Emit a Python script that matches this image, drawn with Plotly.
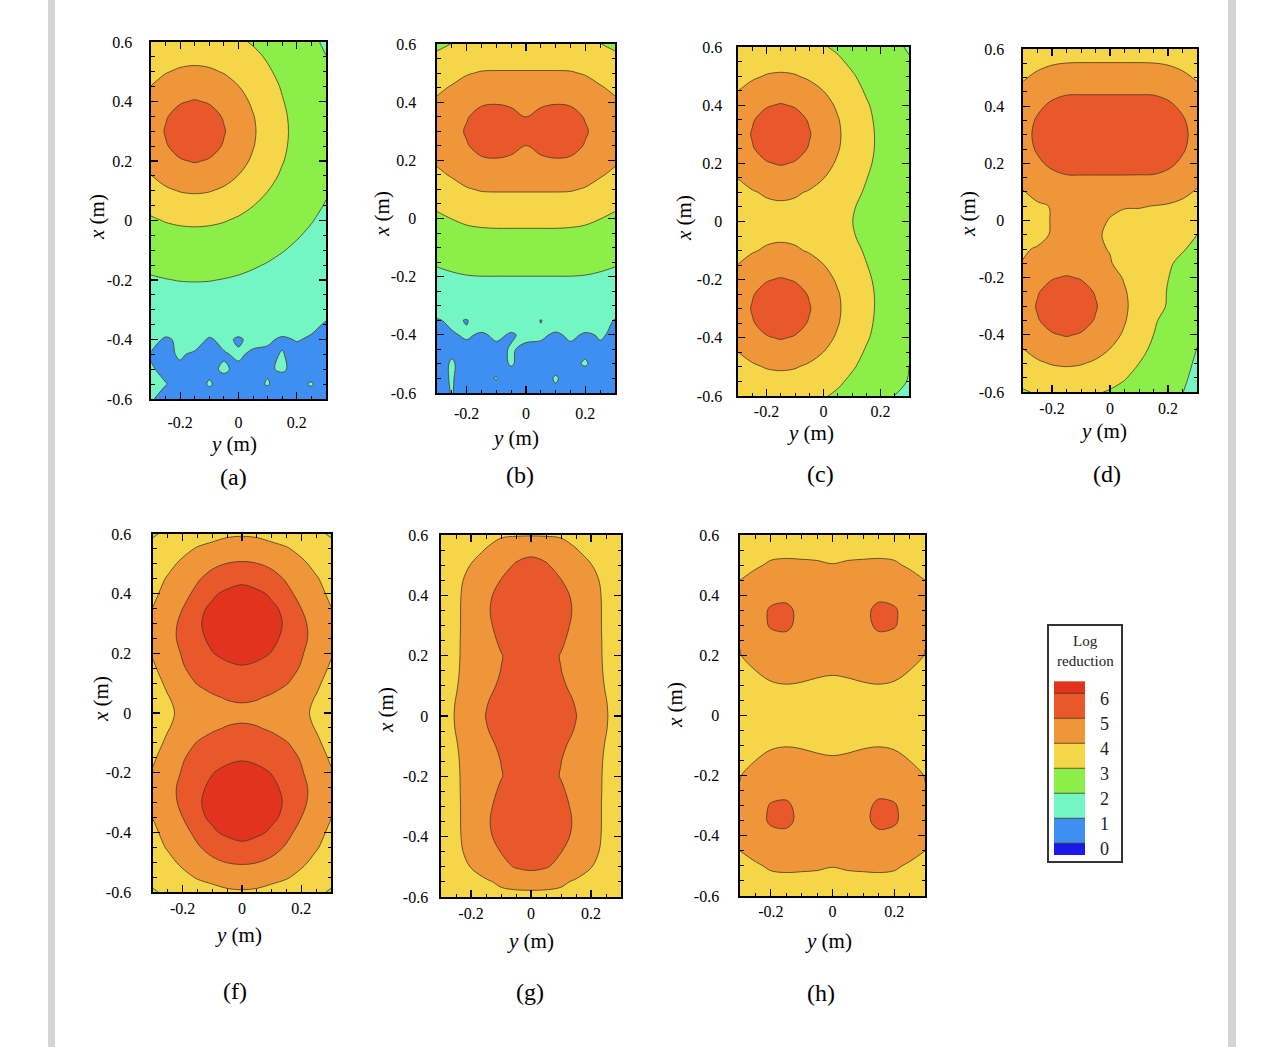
import plotly.graph_objects as go

# ---------------- data ----------------
Y_COLS = [-0.3, -0.25, -0.2, -0.15, -0.1, -0.05, 0.0, 0.05, 0.1, 0.15, 0.2, 0.25, 0.3]
X_ROWS = [0.6, 0.55, 0.5, 0.45, 0.4, 0.35, 0.3, 0.25, 0.2, 0.15, 0.1, 0.05, 0.0,
          -0.05, -0.1, -0.15, -0.2, -0.25, -0.3, -0.35, -0.4, -0.45, -0.5, -0.55, -0.6]

LR_A = [
    [3.10, 3.24, 3.32, 3.35, 3.32, 3.24, 3.10, 2.94, 2.76, 2.58, 2.40, 2.10, 1.92],
    [3.38, 3.57, 3.70, 3.75, 3.70, 3.57, 3.38, 3.16, 2.93, 2.71, 2.50, 2.31, 2.01],
    [3.68, 3.95, 4.12, 4.18, 4.12, 3.95, 3.68, 3.38, 3.09, 2.82, 2.57, 2.35, 2.14],
    [4.02, 4.34, 4.56, 4.64, 4.56, 4.34, 4.02, 3.64, 3.27, 2.94, 2.65, 2.40, 2.18],
    [4.30, 4.68, 4.94, 5.05, 4.94, 4.68, 4.30, 3.87, 3.42, 3.04, 2.72, 2.44, 2.20],
    [4.52, 4.94, 5.26, 5.40, 5.26, 4.94, 4.52, 4.04, 3.56, 3.12, 2.78, 2.49, 2.24],
    [4.60, 5.05, 5.40, 5.60, 5.40, 5.05, 4.60, 4.10, 3.60, 3.15, 2.80, 2.50, 2.25],
    [4.52, 4.94, 5.26, 5.40, 5.26, 4.94, 4.52, 4.04, 3.56, 3.12, 2.78, 2.49, 2.24],
    [4.30, 4.68, 4.94, 5.05, 4.94, 4.68, 4.30, 3.87, 3.42, 3.04, 2.72, 2.44, 2.20],
    [3.98, 4.30, 4.52, 4.60, 4.52, 4.30, 3.98, 3.60, 3.23, 2.90, 2.61, 2.37, 2.14],
    [3.60, 3.87, 4.04, 4.10, 4.04, 3.87, 3.60, 3.30, 3.01, 2.74, 2.49, 2.27, 2.06],
    [3.23, 3.42, 3.56, 3.60, 3.56, 3.42, 3.23, 3.01, 2.78, 2.56, 2.35, 2.16, 1.96],
    [2.90, 3.04, 3.12, 3.15, 3.12, 3.04, 2.90, 2.74, 2.56, 2.38, 2.20, 2.03, 1.84],
    [2.61, 2.72, 2.78, 2.80, 2.78, 2.72, 2.61, 2.49, 2.35, 2.20, 2.05, 1.89, 1.72],
    [2.37, 2.44, 2.49, 2.50, 2.49, 2.44, 2.37, 2.27, 2.16, 2.03, 1.89, 1.73, 1.59],
    [2.14, 2.20, 2.24, 2.25, 2.24, 2.20, 2.14, 2.06, 1.96, 1.84, 1.72, 1.59, 1.47],
    [1.93, 1.98, 2.02, 2.03, 2.02, 1.98, 1.93, 1.85, 1.76, 1.67, 1.56, 1.45, 1.34],
    [1.72, 1.76, 1.79, 1.80, 1.79, 1.76, 1.72, 1.66, 1.59, 1.51, 1.41, 1.32, 1.22],
    [1.53, 1.57, 1.59, 1.60, 1.59, 1.57, 1.53, 1.48, 1.42, 1.35, 1.27, 1.19, 1.10],
    [1.36, 1.39, 1.41, 1.42, 1.41, 1.39, 1.36, 1.32, 1.26, 1.20, 1.14, 1.07, 0.97],
    [1.20, 0.92, 1.10, 1.25, 0.93, 1.15, 0.92, 1.17, 1.05, 0.95, 1.02, 0.96, 0.91],
    [0.95, 0.90, 1.05, 0.92, 0.88, 0.95, 1.08, 0.90, 0.93, 1.02, 0.88, 0.86, 0.84],
    [1.05, 0.88, 0.92, 0.85, 0.90, 1.06, 0.90, 0.86, 0.95, 1.05, 0.88, 0.82, 0.80],
    [1.08, 1.02, 0.85, 0.82, 1.04, 0.85, 0.83, 0.88, 1.03, 0.80, 0.92, 1.03, 0.78],
    [1.05, 0.82, 0.80, 0.95, 0.80, 0.78, 0.90, 0.77, 0.76, 1.02, 0.72, 0.80, 0.70],
]

LR_B = [
    [2.87, 3.01, 3.14, 3.21, 3.23, 3.23, 3.23, 3.23, 3.23, 3.21, 3.14, 3.01, 2.87],
    [3.14, 3.35, 3.51, 3.62, 3.63, 3.63, 3.63, 3.63, 3.63, 3.62, 3.51, 3.35, 3.14],
    [3.44, 3.72, 3.94, 4.06, 4.08, 4.08, 4.08, 4.08, 4.08, 4.06, 3.94, 3.72, 3.44],
    [3.84, 4.07, 4.32, 4.47, 4.50, 4.50, 4.50, 4.50, 4.50, 4.47, 4.32, 4.07, 3.84],
    [4.12, 4.35, 4.66, 4.87, 4.92, 4.85, 4.75, 4.85, 4.92, 4.87, 4.66, 4.35, 4.12],
    [4.25, 4.55, 4.93, 5.33, 5.45, 5.25, 4.98, 5.25, 5.45, 5.33, 4.93, 4.55, 4.25],
    [4.30, 4.62, 5.10, 5.53, 5.70, 5.60, 5.35, 5.60, 5.70, 5.53, 5.10, 4.62, 4.30],
    [4.25, 4.55, 4.93, 5.33, 5.45, 5.25, 4.98, 5.25, 5.45, 5.33, 4.93, 4.55, 4.25],
    [4.12, 4.35, 4.66, 4.87, 4.92, 4.85, 4.75, 4.85, 4.92, 4.87, 4.66, 4.35, 4.12],
    [3.84, 4.07, 4.32, 4.47, 4.50, 4.50, 4.50, 4.50, 4.50, 4.47, 4.32, 4.07, 3.84],
    [3.44, 3.72, 3.94, 4.06, 4.08, 4.08, 4.08, 4.08, 4.08, 4.06, 3.94, 3.72, 3.44],
    [3.14, 3.35, 3.51, 3.62, 3.63, 3.63, 3.63, 3.63, 3.63, 3.62, 3.51, 3.35, 3.14],
    [2.87, 3.01, 3.14, 3.21, 3.23, 3.23, 3.23, 3.23, 3.23, 3.21, 3.14, 3.01, 2.87],
    [2.62, 2.74, 2.83, 2.87, 2.89, 2.89, 2.89, 2.89, 2.89, 2.87, 2.83, 2.74, 2.62],
    [2.36, 2.47, 2.55, 2.59, 2.60, 2.60, 2.60, 2.60, 2.60, 2.59, 2.55, 2.47, 2.36],
    [2.08, 2.18, 2.25, 2.29, 2.30, 2.30, 2.30, 2.30, 2.30, 2.29, 2.25, 2.18, 2.08],
    [1.84, 1.91, 1.97, 1.99, 1.99, 1.99, 1.99, 1.99, 1.99, 1.99, 1.97, 1.91, 1.84],
    [1.60, 1.67, 1.72, 1.75, 1.75, 1.75, 1.75, 1.75, 1.75, 1.75, 1.72, 1.67, 1.60],
    [1.38, 1.44, 1.48, 1.50, 1.50, 1.50, 1.50, 1.50, 1.50, 1.50, 1.48, 1.44, 1.38],
    [0.95, 1.10, 0.97, 1.29, 1.29, 1.20, 1.29, 0.98, 1.29, 1.29, 1.27, 1.23, 0.97],
    [0.92, 0.95, 1.06, 0.94, 1.08, 0.96, 1.08, 1.08, 0.93, 1.08, 0.95, 1.03, 0.95],
    [0.88, 0.91, 0.88, 0.93, 0.90, 1.03, 0.93, 0.88, 0.93, 0.90, 0.92, 0.95, 0.88],
    [0.80, 1.05, 0.82, 0.85, 0.82, 1.04, 0.82, 0.86, 0.82, 0.90, 1.04, 0.81, 0.80],
    [0.85, 1.04, 0.77, 0.90, 1.02, 0.77, 0.80, 0.77, 1.05, 0.77, 0.77, 0.88, 0.75],
    [0.71, 1.03, 0.71, 0.72, 0.80, 0.72, 0.72, 0.72, 0.90, 0.72, 0.71, 0.71, 0.71],
]

LR_C = [
    [3.05, 3.18, 3.26, 3.29, 3.26, 3.18, 3.05, 2.89, 2.70, 2.50, 2.30, 2.11, 1.94],
    [3.33, 3.51, 3.65, 3.69, 3.65, 3.51, 3.33, 3.11, 2.87, 2.64, 2.43, 2.23, 2.05],
    [3.61, 3.87, 4.05, 4.11, 4.05, 3.87, 3.61, 3.34, 3.07, 2.80, 2.56, 2.33, 2.15],
    [3.99, 4.30, 4.52, 4.60, 4.52, 4.30, 3.99, 3.61, 3.25, 2.93, 2.66, 2.43, 2.22],
    [4.30, 4.68, 4.94, 5.05, 4.94, 4.68, 4.30, 3.88, 3.44, 3.07, 2.77, 2.50, 2.29],
    [4.53, 4.94, 5.26, 5.40, 5.26, 4.94, 4.53, 4.05, 3.57, 3.15, 2.83, 2.56, 2.33],
    [4.61, 5.05, 5.40, 5.60, 5.40, 5.05, 4.61, 4.11, 3.62, 3.19, 2.86, 2.58, 2.35],
    [4.53, 4.95, 5.26, 5.40, 5.26, 4.95, 4.53, 4.06, 3.59, 3.18, 2.86, 2.59, 2.36],
    [4.31, 4.69, 4.95, 5.06, 4.95, 4.69, 4.31, 3.89, 3.47, 3.12, 2.82, 2.57, 2.36],
    [4.02, 4.32, 4.54, 4.62, 4.54, 4.32, 4.02, 3.66, 3.32, 3.02, 2.76, 2.54, 2.34],
    [3.69, 3.93, 4.10, 4.16, 4.10, 3.93, 3.69, 3.42, 3.17, 2.93, 2.70, 2.50, 2.32],
    [3.52, 3.70, 3.83, 3.88, 3.83, 3.70, 3.52, 3.30, 3.05, 2.85, 2.67, 2.49, 2.30],
    [3.35, 3.49, 3.57, 3.60, 3.57, 3.49, 3.35, 3.19, 3.01, 2.83, 2.65, 2.48, 2.29],
    [3.52, 3.70, 3.83, 3.88, 3.83, 3.70, 3.52, 3.30, 3.05, 2.85, 2.67, 2.49, 2.30],
    [3.69, 3.93, 4.10, 4.16, 4.10, 3.93, 3.69, 3.42, 3.17, 2.93, 2.70, 2.50, 2.32],
    [4.02, 4.32, 4.54, 4.62, 4.54, 4.32, 4.02, 3.66, 3.32, 3.02, 2.76, 2.54, 2.34],
    [4.31, 4.69, 4.95, 5.06, 4.95, 4.69, 4.31, 3.89, 3.47, 3.12, 2.82, 2.57, 2.36],
    [4.53, 4.95, 5.26, 5.40, 5.26, 4.95, 4.53, 4.06, 3.59, 3.18, 2.86, 2.59, 2.36],
    [4.61, 5.05, 5.40, 5.60, 5.40, 5.05, 4.61, 4.11, 3.62, 3.19, 2.86, 2.58, 2.35],
    [4.53, 4.94, 5.26, 5.40, 5.26, 4.94, 4.53, 4.05, 3.57, 3.15, 2.83, 2.56, 2.33],
    [4.30, 4.68, 4.94, 5.05, 4.94, 4.68, 4.30, 3.88, 3.44, 3.07, 2.77, 2.50, 2.29],
    [3.99, 4.30, 4.52, 4.60, 4.52, 4.30, 3.99, 3.61, 3.25, 2.93, 2.66, 2.43, 2.10],
    [3.61, 3.87, 4.05, 4.11, 4.05, 3.87, 3.61, 3.34, 3.07, 2.80, 2.56, 2.33, 2.00],
    [3.33, 3.51, 3.65, 3.69, 3.65, 3.51, 3.33, 3.11, 2.87, 2.64, 2.43, 2.20, 1.96],
    [3.05, 3.18, 3.26, 3.29, 3.26, 3.18, 3.05, 2.89, 2.70, 2.50, 2.30, 1.98, 1.90],
]

LR_D = [
    [3.28, 3.44, 3.55, 3.61, 3.62, 3.62, 3.62, 3.62, 3.62, 3.61, 3.55, 3.44, 3.28],
    [3.60, 3.80, 3.94, 4.01, 4.02, 4.02, 4.02, 4.02, 4.02, 4.01, 3.94, 3.80, 3.60],
    [3.91, 4.18, 4.39, 4.50, 4.51, 4.51, 4.51, 4.51, 4.51, 4.50, 4.39, 4.18, 3.91],
    [4.24, 4.57, 4.80, 4.91, 4.92, 4.92, 4.92, 4.92, 4.92, 4.91, 4.80, 4.57, 4.24],
    [4.53, 4.87, 5.14, 5.30, 5.32, 5.32, 5.32, 5.32, 5.32, 5.30, 5.14, 4.87, 4.53],
    [4.69, 5.08, 5.42, 5.63, 5.65, 5.65, 5.65, 5.65, 5.65, 5.63, 5.42, 5.08, 4.69],
    [4.75, 5.16, 5.55, 5.80, 5.90, 5.90, 5.90, 5.90, 5.90, 5.80, 5.55, 5.16, 4.75],
    [4.70, 5.08, 5.43, 5.63, 5.65, 5.65, 5.65, 5.65, 5.65, 5.63, 5.43, 5.08, 4.70],
    [4.54, 4.88, 5.15, 5.31, 5.32, 5.32, 5.32, 5.32, 5.32, 5.31, 5.15, 4.88, 4.54],
    [4.26, 4.58, 4.80, 4.92, 4.93, 4.93, 4.93, 4.93, 4.92, 4.91, 4.80, 4.57, 4.24],
    [3.96, 4.22, 4.42, 4.52, 4.53, 4.53, 4.53, 4.52, 4.52, 4.51, 4.39, 4.19, 3.92],
    [3.72, 3.90, 4.03, 4.09, 4.09, 4.09, 4.07, 4.06, 4.05, 3.98, 3.92, 3.80, 3.62],
    [3.56, 3.72, 4.05, 4.15, 4.18, 4.10, 3.98, 3.75, 3.72, 3.69, 3.62, 3.50, 3.33],
    [3.56, 3.72, 4.08, 4.20, 4.22, 4.12, 3.85, 3.58, 3.49, 3.42, 3.33, 3.22, 3.00],
    [3.90, 4.08, 4.14, 4.20, 4.14, 4.10, 3.97, 3.58, 3.40, 3.27, 3.15, 3.03, 2.90],
    [4.04, 4.34, 4.55, 4.63, 4.56, 4.34, 4.05, 3.73, 3.44, 3.22, 3.05, 2.91, 2.76],
    [4.32, 4.70, 4.95, 5.06, 4.95, 4.70, 4.33, 3.93, 3.54, 3.24, 3.01, 2.83, 2.66],
    [4.53, 4.95, 5.27, 5.40, 5.27, 4.95, 4.54, 4.07, 3.62, 3.24, 2.97, 2.76, 2.58],
    [4.61, 5.06, 5.40, 5.60, 5.40, 5.06, 4.61, 4.12, 3.65, 3.24, 2.95, 2.71, 2.55],
    [4.53, 4.95, 5.27, 5.40, 5.27, 4.95, 4.53, 4.06, 3.53, 3.09, 2.78, 2.50, 2.26],
    [4.30, 4.68, 4.94, 5.05, 4.94, 4.68, 4.30, 3.89, 3.40, 3.00, 2.70, 2.44, 2.20],
    [3.99, 4.30, 4.53, 4.61, 4.53, 4.30, 3.99, 3.63, 3.22, 2.86, 2.59, 2.35, 1.97],
    [3.62, 3.88, 4.05, 4.11, 4.05, 3.88, 3.62, 3.33, 3.00, 2.71, 2.46, 2.25, 1.88],
    [3.25, 3.44, 3.57, 3.62, 3.57, 3.44, 3.26, 3.05, 2.78, 2.54, 2.33, 2.14, 1.78],
    [2.93, 3.07, 3.15, 3.18, 3.15, 3.07, 2.94, 2.79, 2.57, 2.37, 2.19, 2.02, 1.67],
]

LR_F = [
    [2.92, 3.15, 3.40, 3.60, 3.75, 3.88, 3.92, 3.88, 3.75, 3.60, 3.40, 3.15, 2.92],
    [3.25, 3.50, 3.80, 4.07, 4.22, 4.38, 4.45, 4.38, 4.22, 4.07, 3.80, 3.50, 3.25],
    [3.50, 3.80, 4.15, 4.45, 4.80, 5.03, 5.10, 5.03, 4.80, 4.45, 4.15, 3.80, 3.50],
    [3.70, 4.07, 4.50, 4.90, 5.35, 5.65, 5.80, 5.65, 5.35, 4.90, 4.50, 4.07, 3.70],
    [3.85, 4.25, 4.70, 5.25, 5.90, 6.15, 6.30, 6.15, 5.90, 5.25, 4.70, 4.25, 3.85],
    [4.02, 4.50, 5.00, 5.85, 6.12, 6.38, 6.50, 6.38, 6.12, 5.85, 5.00, 4.50, 4.02],
    [4.25, 4.65, 5.20, 5.92, 6.20, 6.45, 6.60, 6.45, 6.20, 5.92, 5.20, 4.65, 4.25],
    [4.30, 4.70, 5.22, 5.86, 6.13, 6.38, 6.50, 6.38, 6.13, 5.86, 5.22, 4.70, 4.30],
    [4.08, 4.55, 5.08, 5.55, 5.98, 6.17, 6.30, 6.17, 5.98, 5.55, 5.08, 4.55, 4.08],
    [3.88, 4.40, 4.93, 5.30, 5.60, 5.85, 5.92, 5.85, 5.60, 5.30, 4.93, 4.40, 3.88],
    [3.70, 4.15, 4.65, 5.05, 5.30, 5.50, 5.60, 5.50, 5.30, 5.05, 4.65, 4.15, 3.70],
    [3.55, 3.95, 4.30, 4.60, 4.88, 5.05, 5.12, 5.05, 4.88, 4.60, 4.30, 3.95, 3.55],
    [3.45, 3.85, 4.18, 4.40, 4.58, 4.70, 4.75, 4.70, 4.58, 4.40, 4.18, 3.85, 3.45],
    [3.55, 3.95, 4.30, 4.60, 4.88, 5.05, 5.12, 5.05, 4.88, 4.60, 4.30, 3.95, 3.55],
    [3.70, 4.15, 4.65, 5.05, 5.30, 5.50, 5.60, 5.50, 5.30, 5.05, 4.65, 4.15, 3.70],
    [3.88, 4.40, 4.93, 5.30, 5.60, 5.85, 5.92, 5.85, 5.60, 5.30, 4.93, 4.40, 3.88],
    [4.08, 4.55, 5.08, 5.55, 5.98, 6.17, 6.30, 6.17, 5.98, 5.55, 5.08, 4.55, 4.08],
    [4.30, 4.70, 5.22, 5.86, 6.13, 6.38, 6.50, 6.38, 6.13, 5.86, 5.22, 4.70, 4.30],
    [4.25, 4.65, 5.20, 5.92, 6.20, 6.45, 6.60, 6.45, 6.20, 5.92, 5.20, 4.65, 4.25],
    [4.02, 4.50, 5.00, 5.85, 6.12, 6.38, 6.50, 6.38, 6.12, 5.85, 5.00, 4.50, 4.02],
    [3.85, 4.25, 4.70, 5.25, 5.90, 6.15, 6.30, 6.15, 5.90, 5.25, 4.70, 4.25, 3.85],
    [3.70, 4.07, 4.50, 4.90, 5.35, 5.65, 5.80, 5.65, 5.35, 4.90, 4.50, 4.07, 3.70],
    [3.50, 3.80, 4.15, 4.45, 4.80, 5.03, 5.10, 5.03, 4.80, 4.45, 4.15, 3.80, 3.50],
    [3.25, 3.50, 3.80, 4.07, 4.22, 4.38, 4.45, 4.38, 4.22, 4.07, 3.80, 3.50, 3.25],
    [2.92, 3.15, 3.40, 3.60, 3.75, 3.88, 3.92, 3.88, 3.75, 3.60, 3.40, 3.15, 2.92],
]

LR_G = [
    [3.30, 3.55, 3.70, 3.80, 3.87, 3.93, 3.95, 3.93, 3.87, 3.80, 3.70, 3.55, 3.30],
    [3.45, 3.65, 3.80, 4.03, 4.50, 4.72, 4.80, 4.72, 4.50, 4.03, 3.80, 3.65, 3.45],
    [3.55, 3.75, 4.02, 4.38, 4.75, 5.07, 5.25, 5.07, 4.75, 4.38, 4.02, 3.75, 3.55],
    [3.58, 3.82, 4.20, 4.60, 5.02, 5.28, 5.40, 5.28, 5.02, 4.60, 4.20, 3.82, 3.58],
    [3.60, 3.85, 4.30, 4.85, 5.20, 5.45, 5.55, 5.45, 5.20, 4.85, 4.30, 3.85, 3.60],
    [3.60, 3.86, 4.32, 4.90, 5.26, 5.50, 5.60, 5.50, 5.26, 4.90, 4.32, 3.86, 3.60],
    [3.60, 3.86, 4.32, 4.85, 5.20, 5.45, 5.55, 5.45, 5.20, 4.85, 4.32, 3.86, 3.60],
    [3.60, 3.87, 4.33, 4.75, 5.10, 5.35, 5.45, 5.35, 5.10, 4.75, 4.33, 3.87, 3.60],
    [3.60, 3.88, 4.33, 4.68, 4.97, 5.22, 5.35, 5.22, 4.97, 4.68, 4.33, 3.88, 3.60],
    [3.60, 3.90, 4.35, 4.70, 5.01, 5.26, 5.38, 5.26, 5.01, 4.70, 4.35, 3.90, 3.60],
    [3.62, 3.95, 4.37, 4.78, 5.12, 5.34, 5.45, 5.34, 5.12, 4.78, 4.37, 3.95, 3.62],
    [3.63, 4.02, 4.40, 4.95, 5.22, 5.42, 5.52, 5.42, 5.22, 4.95, 4.40, 4.02, 3.63],
    [3.65, 4.05, 4.42, 5.02, 5.27, 5.45, 5.55, 5.45, 5.27, 5.02, 4.42, 4.05, 3.65],
    [3.63, 4.02, 4.40, 4.95, 5.22, 5.42, 5.52, 5.42, 5.22, 4.95, 4.40, 4.02, 3.63],
    [3.62, 3.95, 4.37, 4.78, 5.12, 5.34, 5.45, 5.34, 5.12, 4.78, 4.37, 3.95, 3.62],
    [3.60, 3.90, 4.35, 4.70, 5.01, 5.26, 5.38, 5.26, 5.01, 4.70, 4.35, 3.90, 3.60],
    [3.60, 3.88, 4.33, 4.68, 4.97, 5.22, 5.35, 5.22, 4.97, 4.68, 4.33, 3.88, 3.60],
    [3.60, 3.87, 4.33, 4.75, 5.10, 5.35, 5.45, 5.35, 5.10, 4.75, 4.33, 3.87, 3.60],
    [3.60, 3.86, 4.32, 4.85, 5.20, 5.45, 5.55, 5.45, 5.20, 4.85, 4.32, 3.86, 3.60],
    [3.60, 3.86, 4.32, 4.90, 5.26, 5.50, 5.60, 5.50, 5.26, 4.90, 4.32, 3.86, 3.60],
    [3.60, 3.85, 4.30, 4.85, 5.20, 5.45, 5.55, 5.45, 5.20, 4.85, 4.30, 3.85, 3.60],
    [3.58, 3.82, 4.20, 4.60, 5.02, 5.28, 5.40, 5.28, 5.02, 4.60, 4.20, 3.82, 3.58],
    [3.55, 3.75, 4.02, 4.38, 4.75, 5.07, 5.25, 5.07, 4.75, 4.38, 4.02, 3.75, 3.55],
    [3.40, 3.60, 3.75, 3.90, 4.12, 4.22, 4.25, 4.22, 4.12, 3.90, 3.75, 3.60, 3.40],
    [3.25, 3.50, 3.65, 3.72, 3.78, 3.80, 3.80, 3.80, 3.78, 3.72, 3.65, 3.50, 3.25],
]

LR_H = [
    [3.40, 3.50, 3.56, 3.57, 3.56, 3.55, 3.55, 3.55, 3.56, 3.57, 3.56, 3.50, 3.40],
    [3.60, 3.75, 3.83, 3.85, 3.84, 3.82, 3.80, 3.82, 3.84, 3.85, 3.83, 3.75, 3.60],
    [3.72, 3.92, 4.08, 4.12, 4.10, 4.08, 4.02, 4.08, 4.10, 4.12, 4.08, 3.92, 3.72],
    [4.00, 4.20, 4.35, 4.40, 4.35, 4.30, 4.25, 4.30, 4.35, 4.40, 4.35, 4.20, 4.00],
    [4.05, 4.40, 4.70, 4.78, 4.60, 4.45, 4.40, 4.45, 4.60, 4.78, 4.70, 4.40, 4.05],
    [4.08, 4.55, 5.12, 5.20, 4.75, 4.55, 4.45, 4.55, 4.75, 5.25, 5.12, 4.55, 4.08],
    [4.08, 4.55, 5.10, 5.18, 4.72, 4.55, 4.45, 4.55, 4.72, 5.18, 5.08, 4.55, 4.08],
    [4.03, 4.40, 4.68, 4.75, 4.55, 4.42, 4.35, 4.42, 4.55, 4.75, 4.68, 4.40, 4.03],
    [3.98, 4.22, 4.40, 4.45, 4.35, 4.25, 4.20, 4.25, 4.35, 4.45, 4.40, 4.22, 3.98],
    [3.80, 4.00, 4.18, 4.22, 4.18, 4.10, 4.06, 4.10, 4.18, 4.22, 4.18, 4.00, 3.80],
    [3.65, 3.82, 3.93, 3.98, 3.95, 3.90, 3.88, 3.90, 3.95, 3.98, 3.93, 3.82, 3.65],
    [3.52, 3.65, 3.72, 3.75, 3.74, 3.72, 3.70, 3.72, 3.74, 3.75, 3.72, 3.65, 3.52],
    [3.46, 3.58, 3.64, 3.66, 3.65, 3.63, 3.62, 3.63, 3.65, 3.66, 3.64, 3.58, 3.46],
    [3.52, 3.65, 3.72, 3.75, 3.74, 3.72, 3.70, 3.72, 3.74, 3.75, 3.72, 3.65, 3.52],
    [3.65, 3.82, 3.93, 3.98, 3.95, 3.90, 3.88, 3.90, 3.95, 3.98, 3.93, 3.82, 3.65],
    [3.80, 4.00, 4.18, 4.22, 4.18, 4.10, 4.06, 4.10, 4.18, 4.22, 4.18, 4.00, 3.80],
    [3.98, 4.22, 4.40, 4.45, 4.35, 4.25, 4.20, 4.25, 4.35, 4.45, 4.40, 4.22, 3.98],
    [4.03, 4.40, 4.68, 4.75, 4.55, 4.42, 4.35, 4.42, 4.55, 4.75, 4.68, 4.40, 4.03],
    [4.08, 4.55, 5.08, 5.15, 4.72, 4.55, 4.45, 4.55, 4.72, 5.20, 5.10, 4.55, 4.08],
    [4.08, 4.55, 5.15, 5.22, 4.75, 4.55, 4.45, 4.55, 4.75, 5.28, 5.15, 4.55, 4.08],
    [4.05, 4.40, 4.70, 4.78, 4.60, 4.45, 4.40, 4.45, 4.60, 4.78, 4.70, 4.40, 4.05],
    [4.00, 4.20, 4.35, 4.40, 4.35, 4.30, 4.25, 4.30, 4.35, 4.40, 4.35, 4.20, 4.00],
    [3.72, 3.92, 4.08, 4.12, 4.10, 4.08, 4.02, 4.08, 4.10, 4.12, 4.08, 3.92, 3.72],
    [3.60, 3.75, 3.83, 3.85, 3.84, 3.82, 3.80, 3.82, 3.84, 3.85, 3.83, 3.75, 3.60],
    [3.40, 3.50, 3.56, 3.57, 3.56, 3.55, 3.55, 3.55, 3.56, 3.57, 3.56, 3.50, 3.40],
]

PANEL_GRIDS = [LR_A, LR_B, LR_C, LR_D, LR_F, LR_G, LR_H]
PANEL_LABELS = ["(a)", "(b)", "(c)", "(d)", "(f)", "(g)", "(h)"]
X_TICKS = [-0.2, 0.0, 0.2]
X_TICK_TEXT = ["-0.2", "0", "0.2"]
Y_TICKS = [-0.6, -0.4, -0.2, 0.0, 0.2, 0.4, 0.6]
Y_TICK_TEXT = ["-0.6", "-0.4", "-0.2", "0", "0.2", "0.4", "0.6"]
LEVELS = [0, 1, 2, 3, 4, 5, 6]
LEGEND_SPAN = [-0.47, 6.47]
BAND_COLORS = ["#1a1ae8", "#3f8ef2", "#74f6c4", "#8cee48", "#f6d649", "#ef963a", "#e8582a", "#e2331f"]

# ---------------- layout helpers ----------------
W, H = 1284, 1047
FONT = "Liberation Serif"


def fx(px):
    return px / W


def fy(py):
    return 1 - py / H


# frame pixel boxes (left, right, top, bottom)
FRAMES = [(151, 326, 42, 399), (437, 615, 44, 393), (738, 909, 47, 396), (1023, 1197, 49, 392),
          (153, 331, 534, 892), (441, 621, 535, 897), (740, 925, 535, 896)]
XLABEL_STANDOFF = [8, 5, 0, 1, 1, 1, 0]
YLABEL_STANDOFF = [14, 16, 11, 14, 17, 8, 16]
YTITLE_POS = [(233, 444), (515, 438), (810, 433), (1103, 431), (238, 935), (530, 941), (828, 941)]
XTITLE_POS = [(97, 217), (382, 214), (684, 218), (968, 214), (101, 699), (386, 710), (675, 705)]
LABEL_POS = [(233, 477), (520, 475), (820, 474), (1107, 474), (235, 991), (530, 992), (821, 993)]

n = len(BAND_COLORS)
colorscale = []
for k, c in enumerate(BAND_COLORS):
    lo = 0.0 if k == 0 else (k - 0.5) / (n - 1)
    hi = 1.0 if k == n - 1 else (k + 0.5) / (n - 1)
    colorscale.append([lo, c])
    colorscale.append([hi, c])

contour_style = dict(
    colorscale=colorscale, autocontour=False, showscale=False, hoverinfo="skip",
    contours=dict(start=LEVELS[0], end=LEVELS[-1], size=1, coloring="fill", showlines=True),
    line=dict(color="#46381f", width=0.8, smoothing=1.0),
)

fig = go.Figure()
layout = dict(width=W, height=H, margin=dict(l=0, r=0, t=0, b=0, autoexpand=False),
              paper_bgcolor="white", plot_bgcolor="white", showlegend=False,
              font=dict(family=FONT, color="black"))


def note(px, py, text, size, angle=0, color="black"):
    return dict(x=fx(px), y=fy(py), xref="paper", yref="paper", showarrow=False,
                xanchor="center", yanchor="middle", textangle=angle, text=text,
                font=dict(family=FONT, size=size, color=color))


annotations = []
for i, grid in enumerate(PANEL_GRIDS, start=1):
    L, R, T, B = FRAMES[i - 1]
    fig.add_trace(go.Contour(x=Y_COLS, y=X_ROWS[::-1], z=grid[::-1],
                             xaxis="x%d" % i, yaxis="y%d" % i, **contour_style))
    axis_common = dict(showline=True, linewidth=1.6, linecolor="black", mirror="ticks",
                       ticks="inside", ticklen=7, tickwidth=1.3, tickcolor="black",
                       showgrid=False, zeroline=False,
                       tickfont=dict(family=FONT, size=16, color="black"),
                       minor=dict(ticks="inside", ticklen=3.5, tickwidth=1, tickcolor="black",
                                  dtick=0.05, tick0=0, showgrid=False))
    xa = dict(axis_common, domain=[fx(L), fx(R)], range=[-0.3, 0.3], anchor="y%d" % i,
              tickmode="array", tickvals=X_TICKS, ticktext=X_TICK_TEXT,
              ticklabelstandoff=XLABEL_STANDOFF[i - 1])
    ya = dict(axis_common, domain=[fy(B), fy(T)], range=[-0.6, 0.6], anchor="x%d" % i,
              tickmode="array", tickvals=Y_TICKS, ticktext=Y_TICK_TEXT,
              ticklabelstandoff=YLABEL_STANDOFF[i - 1])
    layout["xaxis" if i == 1 else "xaxis%d" % i] = xa
    layout["yaxis" if i == 1 else "yaxis%d" % i] = ya

    tx, ty = YTITLE_POS[i - 1]
    annotations.append(note(tx, ty, "<i>y</i> (m)", 21))
    tx, ty = XTITLE_POS[i - 1]
    annotations.append(note(tx, ty, "<i>x</i> (m)", 21, angle=-90))
    tx, ty = LABEL_POS[i - 1]
    annotations.append(note(tx, ty, PANEL_LABELS[i - 1], 24))

# legend colour bar drawn as its own contour
li = len(PANEL_GRIDS) + 1
fig.add_trace(go.Contour(x=[0, 1], y=LEGEND_SPAN,
                         z=[[LEGEND_SPAN[0], LEGEND_SPAN[0]], [LEGEND_SPAN[1], LEGEND_SPAN[1]]],
                         xaxis="x%d" % li, yaxis="y%d" % li, **contour_style))
layout["xaxis%d" % li] = dict(domain=[fx(1054), fx(1085)], range=[0, 1], visible=False,
                              anchor="y%d" % li)
layout["yaxis%d" % li] = dict(domain=[fy(855), fy(681.5)], range=LEGEND_SPAN, anchor="x%d" % li,
                              side="right", showline=False, ticks="", showgrid=False, zeroline=False,
                              tickmode="array", tickvals=[v - 0.2 for v in LEVELS],
                              ticktext=[str(v) for v in LEVELS], ticklabelstandoff=14,
                              tickfont=dict(family=FONT, size=18, color="#222"))
annotations.append(note(1085, 641, "Log", 15, color="#222"))
annotations.append(note(1085, 661, "reduction", 15, color="#222"))

shapes = [
    dict(type="rect", xref="paper", yref="paper", x0=fx(1048), x1=fx(1122), y0=fy(862), y1=fy(625),
         line=dict(color="#333333", width=2), fillcolor="rgba(0,0,0,0)"),
    dict(type="rect", xref="paper", yref="paper", x0=fx(48), x1=fx(55), y0=0, y1=1,
         line=dict(width=0), fillcolor="#d4d4d4", layer="below"),
    dict(type="rect", xref="paper", yref="paper", x0=fx(1228), x1=fx(1236), y0=0, y1=1,
         line=dict(width=0), fillcolor="#d4d4d4", layer="below"),
]

layout["annotations"] = annotations
layout["shapes"] = shapes
fig.update_layout(**layout)

PAGE_FIX = ("document.documentElement.style.margin='0';document.documentElement.style.overflow='hidden';"
            "document.body.style.margin='0';document.body.style.padding='0';document.body.style.overflow='hidden';"
            "var gd=document.getElementById('{plot_id}');if(gd&&gd.parentElement){gd.parentElement.style.height='1047px';"
            "gd.parentElement.style.overflow='hidden';gd.parentElement.style.lineHeight='0';}")
fig.write_html("out.html", post_script=PAGE_FIX,
               config={"displayModeBar": False, "staticPlot": True})
